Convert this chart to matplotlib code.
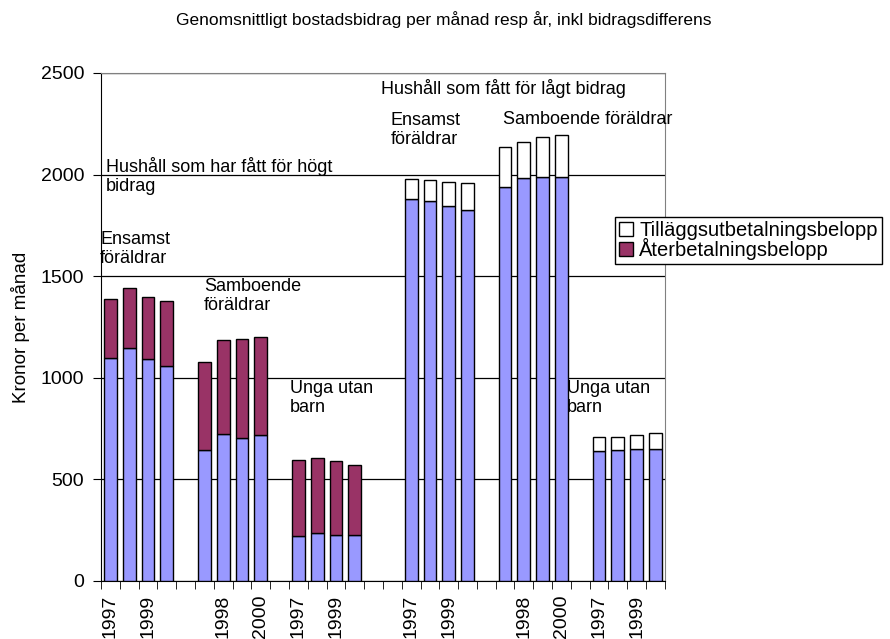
import numpy as np
import matplotlib
matplotlib.use("Agg")
import matplotlib.pyplot as plt
from matplotlib.patches import Patch

plt.rcParams['font.family'] = ['Liberation Sans', 'DejaVu Sans']

years = ['1997', '1998', '1999', '2000']
categories = years + [''] + years + [''] + years + ['', ''] + years + [''] + years + [''] + years

# grundbelopp (blue), återbetalning (maroon, high groups), tillägg (white, low groups)
grund = [1099, 1145, 1092, 1058, 645, 724, 704, 717, 220, 235, 227, 224,
         1882, 1872, 1844, 1828, 1938, 1982, 1989, 1986, 638, 643, 651, 651]
ater = [289, 298, 304, 321, 434, 462, 487, 482, 377, 369, 365, 348,
        0, 0, 0, 0, 0, 0, 0, 0, 0, 0, 0, 0]
tillagg = [0, 0, 0, 0, 0, 0, 0, 0, 0, 0, 0, 0,
           97, 102, 117, 130, 199, 179, 194, 209, 72, 67, 69, 76]

pos = np.array([i for i, c in enumerate(categories) if c])
grund = np.array(grund)
ater = np.array(ater)
tillagg = np.array(tillagg)

fig = plt.figure(figsize=(8.9, 6.39), dpi=100)
ax = fig.add_axes([0.1135, 0.0908, 0.6335, 0.795])

w = 0.68
ax.bar(pos, grund, w, color='#9999FF', edgecolor='black', linewidth=1, zorder=3)
m = ater > 0
ax.bar(pos[m], ater[m], w, bottom=grund[m], color='#993366', edgecolor='black', linewidth=1, zorder=3)
m = tillagg > 0
ax.bar(pos[m], tillagg[m], w, bottom=grund[m], color='white', edgecolor='black', linewidth=1, zorder=3)

ax.set_xlim(-0.5, len(categories) - 0.5)
ax.set_ylim(0, 2500)
ax.set_yticks(np.arange(0, 2501, 500))
ax.yaxis.grid(True, color='black', linewidth=0.9, zorder=0)
ax.tick_params(axis='y', labelsize=14, length=6, direction='out', pad=6)

ax.set_xticks(np.arange(0, len(categories), 2))
ax.set_xticklabels(categories[::2], rotation=90, fontsize=14)
ax.tick_params(axis='x', which='major', length=0, pad=10)
ax.set_xticks(np.arange(-0.5, len(categories)), minor=True)
ax.tick_params(axis='x', which='minor', length=6, direction='out')

for s in ['top', 'right']:
    ax.spines[s].set_color('#808080')
ax.set_ylabel('Kronor per månad', fontsize=13.5, labelpad=8)

fig.text(0.499, 1 - 20 / 639, 'Genomsnittligt bostadsbidrag per månad resp år, inkl bidragsdifferens',
         ha='center', va='center', fontsize=12.5)

tk = dict(fontsize=13, va='center', ha='left', linespacing=1.2, zorder=5)
def note(px, py, s):
    ax.text(px / 890, 1 - py / 639, s, transform=fig.transFigure, **tk)

note(106, 176, 'Hushåll som har fått för högt\nbidrag')
note(100, 249, 'Ensamst\nföräldrar')
note(204, 296, 'Samboende\nföräldrar')
note(290, 398, 'Unga utan\nbarn')
note(381, 89, 'Hushåll som fått för lågt bidrag')
note(391, 130, 'Ensamst\nföräldrar')
note(503, 120, 'Samboende föräldrar')
note(567, 398, 'Unga utan\nbarn')

handles = [Patch(facecolor='white', edgecolor='black'),
           Patch(facecolor='#993366', edgecolor='black')]
fig.legend(handles, ['Tilläggsutbetalningsbelopp', 'Återbetalningsbelopp'],
           loc='upper left', bbox_to_anchor=(0.691, 0.66), fontsize=14.5,
           frameon=True, fancybox=False, edgecolor='black', framealpha=1,
           handlelength=0.7, handleheight=0.7, handletextpad=0.3,
           labelspacing=-0.1, borderpad=0.2, borderaxespad=0)

fig.savefig('out.png', dpi=100)
